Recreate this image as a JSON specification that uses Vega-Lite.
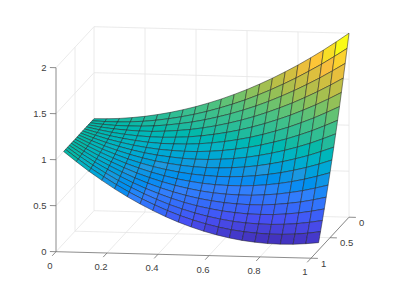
{"$schema":"https://vega.github.io/schema/vega-lite/v6.json","width":401,"height":288,"padding":0,"autosize":{"type":"none"},"background":"white","view":{"stroke":null},
"datasets":{
"surface":[
{"x":0,"y":0,"z":1},{"x":0,"y":0.05,"z":1},{"x":0,"y":0.1,"z":1},{"x":0,"y":0.15,"z":1},{"x":0,"y":0.2,"z":1},{"x":0,"y":0.25,"z":1},{"x":0,"y":0.3,"z":1},{"x":0,"y":0.35,"z":1},{"x":0,"y":0.4,"z":1},{"x":0,"y":0.45,"z":1},{"x":0,"y":0.5,"z":1},{"x":0,"y":0.55,"z":1},{"x":0,"y":0.6,"z":1},{"x":0,"y":0.65,"z":1},{"x":0,"y":0.7,"z":1},{"x":0,"y":0.75,"z":1},{"x":0,"y":0.8,"z":1},
{"x":0.05,"y":0,"z":1.003},{"x":0.05,"y":0.05,"z":0.995},{"x":0.05,"y":0.1,"z":0.987},{"x":0.05,"y":0.15,"z":0.979},{"x":0.05,"y":0.2,"z":0.972},{"x":0.05,"y":0.25,"z":0.964},{"x":0.05,"y":0.3,"z":0.957},{"x":0.05,"y":0.35,"z":0.95},{"x":0.05,"y":0.4,"z":0.943},{"x":0.05,"y":0.45,"z":0.936},{"x":0.05,"y":0.5,"z":0.929},{"x":0.05,"y":0.55,"z":0.923},{"x":0.05,"y":0.6,"z":0.917},{"x":0.05,"y":0.65,"z":0.91},{"x":0.05,"y":0.7,"z":0.904},{"x":0.05,"y":0.75,"z":0.898},{"x":0.05,"y":0.8,"z":0.893},
{"x":0.1,"y":0,"z":1.01},{"x":0.1,"y":0.05,"z":0.994},{"x":0.1,"y":0.1,"z":0.978},{"x":0.1,"y":0.15,"z":0.963},{"x":0.1,"y":0.2,"z":0.948},{"x":0.1,"y":0.25,"z":0.933},{"x":0.1,"y":0.3,"z":0.918},{"x":0.1,"y":0.35,"z":0.904},{"x":0.1,"y":0.4,"z":0.89},{"x":0.1,"y":0.45,"z":0.877},{"x":0.1,"y":0.5,"z":0.864},{"x":0.1,"y":0.55,"z":0.851},{"x":0.1,"y":0.6,"z":0.838},{"x":0.1,"y":0.65,"z":0.826},{"x":0.1,"y":0.7,"z":0.814},{"x":0.1,"y":0.75,"z":0.802},{"x":0.1,"y":0.8,"z":0.791},
{"x":0.15,"y":0,"z":1.023},{"x":0.15,"y":0.05,"z":0.999},{"x":0.15,"y":0.1,"z":0.976},{"x":0.15,"y":0.15,"z":0.953},{"x":0.15,"y":0.2,"z":0.93},{"x":0.15,"y":0.25,"z":0.908},{"x":0.15,"y":0.3,"z":0.887},{"x":0.15,"y":0.35,"z":0.865},{"x":0.15,"y":0.4,"z":0.845},{"x":0.15,"y":0.45,"z":0.825},{"x":0.15,"y":0.5,"z":0.805},{"x":0.15,"y":0.55,"z":0.786},{"x":0.15,"y":0.6,"z":0.767},{"x":0.15,"y":0.65,"z":0.749},{"x":0.15,"y":0.7,"z":0.731},{"x":0.15,"y":0.75,"z":0.714},{"x":0.15,"y":0.8,"z":0.697},
{"x":0.2,"y":0,"z":1.04},{"x":0.2,"y":0.05,"z":1.008},{"x":0.2,"y":0.1,"z":0.977},{"x":0.2,"y":0.15,"z":0.947},{"x":0.2,"y":0.2,"z":0.917},{"x":0.2,"y":0.25,"z":0.888},{"x":0.2,"y":0.3,"z":0.859},{"x":0.2,"y":0.35,"z":0.831},{"x":0.2,"y":0.4,"z":0.804},{"x":0.2,"y":0.45,"z":0.777},{"x":0.2,"y":0.5,"z":0.751},{"x":0.2,"y":0.55,"z":0.726},{"x":0.2,"y":0.6,"z":0.701},{"x":0.2,"y":0.65,"z":0.677},{"x":0.2,"y":0.7,"z":0.653},{"x":0.2,"y":0.75,"z":0.63},{"x":0.2,"y":0.8,"z":0.608},
{"x":0.25,"y":0,"z":1.063},{"x":0.25,"y":0.05,"z":1.023},{"x":0.25,"y":0.1,"z":0.984},{"x":0.25,"y":0.15,"z":0.946},{"x":0.25,"y":0.2,"z":0.91},{"x":0.25,"y":0.25,"z":0.873},{"x":0.25,"y":0.3,"z":0.838},{"x":0.25,"y":0.35,"z":0.803},{"x":0.25,"y":0.4,"z":0.769},{"x":0.25,"y":0.45,"z":0.736},{"x":0.25,"y":0.5,"z":0.704},{"x":0.25,"y":0.55,"z":0.672},{"x":0.25,"y":0.6,"z":0.641},{"x":0.25,"y":0.65,"z":0.611},{"x":0.25,"y":0.7,"z":0.582},{"x":0.25,"y":0.75,"z":0.553},{"x":0.25,"y":0.8,"z":0.526},
{"x":0.3,"y":0,"z":1.09},{"x":0.3,"y":0.05,"z":1.043},{"x":0.3,"y":0.1,"z":0.997},{"x":0.3,"y":0.15,"z":0.952},{"x":0.3,"y":0.2,"z":0.908},{"x":0.3,"y":0.25,"z":0.864},{"x":0.3,"y":0.3,"z":0.822},{"x":0.3,"y":0.35,"z":0.781},{"x":0.3,"y":0.4,"z":0.74},{"x":0.3,"y":0.45,"z":0.701},{"x":0.3,"y":0.5,"z":0.662},{"x":0.3,"y":0.55,"z":0.625},{"x":0.3,"y":0.6,"z":0.588},{"x":0.3,"y":0.65,"z":0.552},{"x":0.3,"y":0.7,"z":0.518},{"x":0.3,"y":0.75,"z":0.484},{"x":0.3,"y":0.8,"z":0.451},
{"x":0.35,"y":0,"z":1.123},{"x":0.35,"y":0.05,"z":1.068},{"x":0.35,"y":0.1,"z":1.015},{"x":0.35,"y":0.15,"z":0.963},{"x":0.35,"y":0.2,"z":0.912},{"x":0.35,"y":0.25,"z":0.862},{"x":0.35,"y":0.3,"z":0.813},{"x":0.35,"y":0.35,"z":0.765},{"x":0.35,"y":0.4,"z":0.718},{"x":0.35,"y":0.45,"z":0.672},{"x":0.35,"y":0.5,"z":0.627},{"x":0.35,"y":0.55,"z":0.584},{"x":0.35,"y":0.6,"z":0.541},{"x":0.35,"y":0.65,"z":0.5},{"x":0.35,"y":0.7,"z":0.46},{"x":0.35,"y":0.75,"z":0.421},{"x":0.35,"y":0.8,"z":0.383},
{"x":0.4,"y":0,"z":1.16},{"x":0.4,"y":0.05,"z":1.098},{"x":0.4,"y":0.1,"z":1.037},{"x":0.4,"y":0.15,"z":0.978},{"x":0.4,"y":0.2,"z":0.92},{"x":0.4,"y":0.25,"z":0.863},{"x":0.4,"y":0.3,"z":0.807},{"x":0.4,"y":0.35,"z":0.753},{"x":0.4,"y":0.4,"z":0.7},{"x":0.4,"y":0.45,"z":0.648},{"x":0.4,"y":0.5,"z":0.597},{"x":0.4,"y":0.55,"z":0.548},{"x":0.4,"y":0.6,"z":0.5},{"x":0.4,"y":0.65,"z":0.453},{"x":0.4,"y":0.7,"z":0.407},{"x":0.4,"y":0.75,"z":0.363},{"x":0.4,"y":0.8,"z":0.32},
{"x":0.45,"y":0,"z":1.203},{"x":0.45,"y":0.05,"z":1.133},{"x":0.45,"y":0.1,"z":1.065},{"x":0.45,"y":0.15,"z":0.999},{"x":0.45,"y":0.2,"z":0.934},{"x":0.45,"y":0.25,"z":0.871},{"x":0.45,"y":0.3,"z":0.808},{"x":0.45,"y":0.35,"z":0.747},{"x":0.45,"y":0.4,"z":0.688},{"x":0.45,"y":0.45,"z":0.63},{"x":0.45,"y":0.5,"z":0.574},{"x":0.45,"y":0.55,"z":0.519},{"x":0.45,"y":0.6,"z":0.465},{"x":0.45,"y":0.65,"z":0.412},{"x":0.45,"y":0.7,"z":0.362},{"x":0.45,"y":0.75,"z":0.312},{"x":0.45,"y":0.8,"z":0.264},
{"x":0.5,"y":0,"z":1.25},{"x":0.5,"y":0.05,"z":1.174},{"x":0.5,"y":0.1,"z":1.099},{"x":0.5,"y":0.15,"z":1.025},{"x":0.5,"y":0.2,"z":0.954},{"x":0.5,"y":0.25,"z":0.884},{"x":0.5,"y":0.3,"z":0.815},{"x":0.5,"y":0.35,"z":0.748},{"x":0.5,"y":0.4,"z":0.682},{"x":0.5,"y":0.45,"z":0.619},{"x":0.5,"y":0.5,"z":0.556},{"x":0.5,"y":0.55,"z":0.495},{"x":0.5,"y":0.6,"z":0.436},{"x":0.5,"y":0.65,"z":0.378},{"x":0.5,"y":0.7,"z":0.322},{"x":0.5,"y":0.75,"z":0.268},{"x":0.5,"y":0.8,"z":0.215},
{"x":0.55,"y":0,"z":1.303},{"x":0.55,"y":0.05,"z":1.219},{"x":0.55,"y":0.1,"z":1.137},{"x":0.55,"y":0.15,"z":1.057},{"x":0.55,"y":0.2,"z":0.979},{"x":0.55,"y":0.25,"z":0.902},{"x":0.55,"y":0.3,"z":0.827},{"x":0.55,"y":0.35,"z":0.754},{"x":0.55,"y":0.4,"z":0.682},{"x":0.55,"y":0.45,"z":0.612},{"x":0.55,"y":0.5,"z":0.544},{"x":0.55,"y":0.55,"z":0.478},{"x":0.55,"y":0.6,"z":0.414},{"x":0.55,"y":0.65,"z":0.351},{"x":0.55,"y":0.7,"z":0.289},{"x":0.55,"y":0.75,"z":0.23},{"x":0.55,"y":0.8,"z":0.172},
{"x":0.6,"y":0,"z":1.36},{"x":0.6,"y":0.05,"z":1.269},{"x":0.6,"y":0.1,"z":1.181},{"x":0.6,"y":0.15,"z":1.094},{"x":0.6,"y":0.2,"z":1.009},{"x":0.6,"y":0.25,"z":0.926},{"x":0.6,"y":0.3,"z":0.845},{"x":0.6,"y":0.35,"z":0.765},{"x":0.6,"y":0.4,"z":0.688},{"x":0.6,"y":0.45,"z":0.612},{"x":0.6,"y":0.5,"z":0.539},{"x":0.6,"y":0.55,"z":0.467},{"x":0.6,"y":0.6,"z":0.397},{"x":0.6,"y":0.65,"z":0.329},{"x":0.6,"y":0.7,"z":0.263},{"x":0.6,"y":0.75,"z":0.198},{"x":0.6,"y":0.8,"z":0.136},
{"x":0.65,"y":0,"z":1.423},{"x":0.65,"y":0.05,"z":1.325},{"x":0.65,"y":0.1,"z":1.229},{"x":0.65,"y":0.15,"z":1.136},{"x":0.65,"y":0.2,"z":1.045},{"x":0.65,"y":0.25,"z":0.955},{"x":0.65,"y":0.3,"z":0.868},{"x":0.65,"y":0.35,"z":0.782},{"x":0.65,"y":0.4,"z":0.699},{"x":0.65,"y":0.45,"z":0.618},{"x":0.65,"y":0.5,"z":0.539},{"x":0.65,"y":0.55,"z":0.462},{"x":0.65,"y":0.6,"z":0.387},{"x":0.65,"y":0.65,"z":0.314},{"x":0.65,"y":0.7,"z":0.242},{"x":0.65,"y":0.75,"z":0.173},{"x":0.65,"y":0.8,"z":0.106},
{"x":0.7,"y":0,"z":1.49},{"x":0.7,"y":0.05,"z":1.386},{"x":0.7,"y":0.1,"z":1.283},{"x":0.7,"y":0.15,"z":1.184},{"x":0.7,"y":0.2,"z":1.086},{"x":0.7,"y":0.25,"z":0.99},{"x":0.7,"y":0.3,"z":0.897},{"x":0.7,"y":0.35,"z":0.806},{"x":0.7,"y":0.4,"z":0.716},{"x":0.7,"y":0.45,"z":0.63},{"x":0.7,"y":0.5,"z":0.545},{"x":0.7,"y":0.55,"z":0.462},{"x":0.7,"y":0.6,"z":0.382},{"x":0.7,"y":0.65,"z":0.304},{"x":0.7,"y":0.7,"z":0.228},{"x":0.7,"y":0.75,"z":0.155},{"x":0.7,"y":0.8,"z":0.083},
{"x":0.75,"y":0,"z":1.563},{"x":0.75,"y":0.05,"z":1.452},{"x":0.75,"y":0.1,"z":1.343},{"x":0.75,"y":0.15,"z":1.237},{"x":0.75,"y":0.2,"z":1.133},{"x":0.75,"y":0.25,"z":1.031},{"x":0.75,"y":0.3,"z":0.932},{"x":0.75,"y":0.35,"z":0.835},{"x":0.75,"y":0.4,"z":0.74},{"x":0.75,"y":0.45,"z":0.648},{"x":0.75,"y":0.5,"z":0.557},{"x":0.75,"y":0.55,"z":0.47},{"x":0.75,"y":0.6,"z":0.384},{"x":0.75,"y":0.65,"z":0.302},{"x":0.75,"y":0.7,"z":0.221},{"x":0.75,"y":0.75,"z":0.143},{"x":0.75,"y":0.8,"z":0.067},
{"x":0.8,"y":0,"z":1.64},{"x":0.8,"y":0.05,"z":1.522},{"x":0.8,"y":0.1,"z":1.407},{"x":0.8,"y":0.15,"z":1.294},{"x":0.8,"y":0.2,"z":1.184},{"x":0.8,"y":0.25,"z":1.076},{"x":0.8,"y":0.3,"z":0.971},{"x":0.8,"y":0.35,"z":0.868},{"x":0.8,"y":0.4,"z":0.768},{"x":0.8,"y":0.45,"z":0.67},{"x":0.8,"y":0.5,"z":0.575},{"x":0.8,"y":0.55,"z":0.482},{"x":0.8,"y":0.6,"z":0.392},{"x":0.8,"y":0.65,"z":0.304},{"x":0.8,"y":0.7,"z":0.219},{"x":0.8,"y":0.75,"z":0.136},{"x":0.8,"y":0.8,"z":0.056},
{"x":0.85,"y":0,"z":1.723},{"x":0.85,"y":0.05,"z":1.599},{"x":0.85,"y":0.1,"z":1.477},{"x":0.85,"y":0.15,"z":1.358},{"x":0.85,"y":0.2,"z":1.242},{"x":0.85,"y":0.25,"z":1.128},{"x":0.85,"y":0.3,"z":1.017},{"x":0.85,"y":0.35,"z":0.908},{"x":0.85,"y":0.4,"z":0.803},{"x":0.85,"y":0.45,"z":0.7},{"x":0.85,"y":0.5,"z":0.599},{"x":0.85,"y":0.55,"z":0.502},{"x":0.85,"y":0.6,"z":0.407},{"x":0.85,"y":0.65,"z":0.314},{"x":0.85,"y":0.7,"z":0.224},{"x":0.85,"y":0.75,"z":0.137},{"x":0.85,"y":0.8,"z":0.053},
{"x":0.9,"y":0,"z":1.81},{"x":0.9,"y":0.05,"z":1.679},{"x":0.9,"y":0.1,"z":1.551},{"x":0.9,"y":0.15,"z":1.426},{"x":0.9,"y":0.2,"z":1.304},{"x":0.9,"y":0.25,"z":1.184},{"x":0.9,"y":0.3,"z":1.067},{"x":0.9,"y":0.35,"z":0.953},{"x":0.9,"y":0.4,"z":0.842},{"x":0.9,"y":0.45,"z":0.734},{"x":0.9,"y":0.5,"z":0.629},{"x":0.9,"y":0.55,"z":0.526},{"x":0.9,"y":0.6,"z":0.426},{"x":0.9,"y":0.65,"z":0.329},{"x":0.9,"y":0.7,"z":0.235},{"x":0.9,"y":0.75,"z":0.143},{"x":0.9,"y":0.8,"z":0.055},
{"x":0.95,"y":0,"z":1.903},{"x":0.95,"y":0.05,"z":1.766},{"x":0.95,"y":0.1,"z":1.632},{"x":0.95,"y":0.15,"z":1.5},{"x":0.95,"y":0.2,"z":1.372},{"x":0.95,"y":0.25,"z":1.247},{"x":0.95,"y":0.3,"z":1.125},{"x":0.95,"y":0.35,"z":1.005},{"x":0.95,"y":0.4,"z":0.889},{"x":0.95,"y":0.45,"z":0.775},{"x":0.95,"y":0.5,"z":0.665},{"x":0.95,"y":0.55,"z":0.558},{"x":0.95,"y":0.6,"z":0.453},{"x":0.95,"y":0.65,"z":0.352},{"x":0.95,"y":0.7,"z":0.253},{"x":0.95,"y":0.75,"z":0.157},{"x":0.95,"y":0.8,"z":0.065},
{"x":1,"y":0,"z":2},{"x":1,"y":0.05,"z":1.857},{"x":1,"y":0.1,"z":1.716},{"x":1,"y":0.15,"z":1.579},{"x":1,"y":0.2,"z":1.445},{"x":1,"y":0.25,"z":1.314},{"x":1,"y":0.3,"z":1.186},{"x":1,"y":0.35,"z":1.062},{"x":1,"y":0.4,"z":0.94},{"x":1,"y":0.45,"z":0.822},{"x":1,"y":0.5,"z":0.706},{"x":1,"y":0.55,"z":0.594},{"x":1,"y":0.6,"z":0.485},{"x":1,"y":0.65,"z":0.379},{"x":1,"y":0.7,"z":0.276},{"x":1,"y":0.75,"z":0.177},{"x":1,"y":0.8,"z":0.08}
],
"grid":[
{"x":0,"y":0,"z":0,"x2":0,"y2":1,"z2":0},{"x":0.2,"y":0,"z":0,"x2":0.2,"y2":1,"z2":0},{"x":0.4,"y":0,"z":0,"x2":0.4,"y2":1,"z2":0},{"x":0.6,"y":0,"z":0,"x2":0.6,"y2":1,"z2":0},{"x":0.8,"y":0,"z":0,"x2":0.8,"y2":1,"z2":0},{"x":1,"y":0,"z":0,"x2":1,"y2":1,"z2":0},
{"x":0,"y":0,"z":0,"x2":1,"y2":0,"z2":0},{"x":0,"y":0.5,"z":0,"x2":1,"y2":0.5,"z2":0},
{"x":0,"y":0,"z":0,"x2":0,"y2":0,"z2":2},{"x":0.2,"y":0,"z":0,"x2":0.2,"y2":0,"z2":2},{"x":0.4,"y":0,"z":0,"x2":0.4,"y2":0,"z2":2},{"x":0.6,"y":0,"z":0,"x2":0.6,"y2":0,"z2":2},{"x":0.8,"y":0,"z":0,"x2":0.8,"y2":0,"z2":2},{"x":1,"y":0,"z":0,"x2":1,"y2":0,"z2":2},
{"x":0,"y":0,"z":0.5,"x2":1,"y2":0,"z2":0.5},{"x":0,"y":0,"z":1,"x2":1,"y2":0,"z2":1},{"x":0,"y":0,"z":1.5,"x2":1,"y2":0,"z2":1.5},{"x":0,"y":0,"z":2,"x2":1,"y2":0,"z2":2},
{"x":0,"y":0.5,"z":0,"x2":0,"y2":0.5,"z2":2},
{"x":0,"y":0,"z":0.5,"x2":0,"y2":1,"z2":0.5},{"x":0,"y":0,"z":1,"x2":0,"y2":1,"z2":1},{"x":0,"y":0,"z":1.5,"x2":0,"y2":1,"z2":1.5},{"x":0,"y":0,"z":2,"x2":0,"y2":1,"z2":2}
],
"rulers":[
{"x":0,"y":1,"z":0,"x2":1,"y2":1,"z2":0},{"x":1,"y":0,"z":0,"x2":1,"y2":1,"z2":0},{"x":0,"y":1,"z":0,"x2":0,"y2":1,"z2":2},
{"x":0,"y":1,"z":0,"x2":0,"y2":1.1,"z2":0},{"x":0.2,"y":1,"z":0,"x2":0.2,"y2":1.1,"z2":0},{"x":0.4,"y":1,"z":0,"x2":0.4,"y2":1.1,"z2":0},{"x":0.6,"y":1,"z":0,"x2":0.6,"y2":1.1,"z2":0},{"x":0.8,"y":1,"z":0,"x2":0.8,"y2":1.1,"z2":0},{"x":1,"y":1,"z":0,"x2":1,"y2":1.1,"z2":0},
{"x":1,"y":0,"z":0,"x2":1.027,"y2":0,"z2":0},{"x":1,"y":0.5,"z":0,"x2":1.027,"y2":0.5,"z2":0},{"x":1,"y":1,"z":0,"x2":1.027,"y2":1,"z2":0},
{"x":0,"y":1,"z":0,"x2":-0.024,"y2":1,"z2":0},{"x":0,"y":1,"z":0.5,"x2":-0.024,"y2":1,"z2":0.5},{"x":0,"y":1,"z":1,"x2":-0.024,"y2":1,"z2":1},{"x":0,"y":1,"z":1.5,"x2":-0.024,"y2":1,"z2":1.5},{"x":0,"y":1,"z":2,"x2":-0.024,"y2":1,"z2":2}
],
"xlabels":[{"t":"0","x":0,"y":1,"z":0},{"t":"0.2","x":0.2,"y":1,"z":0},{"t":"0.4","x":0.4,"y":1,"z":0},{"t":"0.6","x":0.6,"y":1,"z":0},{"t":"0.8","x":0.8,"y":1,"z":0},{"t":"1","x":1,"y":1,"z":0}],
"ylabels":[{"t":"0","x":1,"y":0,"z":0},{"t":"0.5","x":1,"y":0.5,"z":0},{"t":"1","x":1,"y":1,"z":0}],
"zlabels":[{"t":"0","x":0,"y":1,"z":0},{"t":"0.5","x":0,"y":1,"z":0.5},{"t":"1","x":0,"y":1,"z":1},{"t":"1.5","x":0,"y":1,"z":1.5},{"t":"2","x":0,"y":1,"z":2}]
},
"layer":[
{"data":{"name":"grid"},
 "transform":[{"calculate":"94+255*datum.x-38*datum.y","as":"sx"},{"calculate":"210.7+6.5*datum.x+41*datum.y-92*datum.z","as":"sy"},{"calculate":"94+255*datum.x2-38*datum.y2","as":"sx2"},{"calculate":"210.7+6.5*datum.x2+41*datum.y2-92*datum.z2","as":"sy2"}],
 "mark":{"type":"rule","stroke":"#e4e4e4","strokeWidth":0.8},
 "encoding":{"x":{"field":"sx","type":"quantitative","scale":{"domain":[0,401]},"axis":null},"y":{"field":"sy","type":"quantitative","scale":{"domain":[288,0]},"axis":null},"x2":{"field":"sx2"},"y2":{"field":"sy2"}}},
{"data":{"name":"rulers"},
 "transform":[{"calculate":"94+255*datum.x-38*datum.y","as":"sx"},{"calculate":"210.7+6.5*datum.x+41*datum.y-92*datum.z","as":"sy"},{"calculate":"94+255*datum.x2-38*datum.y2","as":"sx2"},{"calculate":"210.7+6.5*datum.x2+41*datum.y2-92*datum.z2","as":"sy2"}],
 "mark":{"type":"rule","stroke":"#707070","strokeWidth":0.8},
 "encoding":{"x":{"field":"sx","type":"quantitative","scale":{"domain":[0,401]},"axis":null},"y":{"field":"sy","type":"quantitative","scale":{"domain":[288,0]},"axis":null},"x2":{"field":"sx2"},"y2":{"field":"sy2"}}},
{"data":{"name":"surface"},
 "transform":[
  {"calculate":"[0,1,2,3,4]","as":"c"},{"flatten":["c"]},
  {"calculate":"round(datum.x*20)-((datum.c==1||datum.c==2)?1:0)","as":"qi"},
  {"calculate":"round(datum.y*20)-((datum.c==2||datum.c==3)?1:0)","as":"qj"},
  {"filter":"datum.qi>=0&&datum.qi<20&&datum.qj>=0&&datum.qj<16"},
  {"calculate":"datum.qj*100+datum.qi","as":"q"},
  {"joinaggregate":[{"op":"max","field":"z","as":"zc"}],"groupby":["q"]},
  {"calculate":"94+255*datum.x-38*datum.y","as":"sx"},{"calculate":"210.7+6.5*datum.x+41*datum.y-92*datum.z","as":"sy"}
 ],
 "mark":{"type":"line","filled":true,"stroke":"#222222","strokeWidth":0.6,"strokeOpacity":0.85},
 "encoding":{
  "x":{"field":"sx","type":"quantitative","scale":{"domain":[0,401]},"axis":null},
  "y":{"field":"sy","type":"quantitative","scale":{"domain":[288,0]},"axis":null},
  "order":{"field":"c","type":"ordinal"},
  "detail":{"field":"q","type":"nominal"},
  "color":{"field":"zc","type":"quantitative","legend":null,"scale":{"domain":[0.06,0.31,0.55,0.74,0.9,1.03,1.27,1.54,1.78,1.9,2],"range":["#3e26a8","#4750f4","#3280fc","#1e99e0","#08b4c4","#1cbaa0","#52c27e","#b4bd4a","#fdbe3d","#f8dd26","#f9fb15"]}}
 }},
{"data":{"name":"xlabels"},
 "transform":[{"calculate":"94+255*datum.x-38*datum.y","as":"sx"},{"calculate":"210.7+6.5*datum.x+41*datum.y-92*datum.z","as":"sy"}],
 "mark":{"type":"text","font":"Liberation Sans","fontSize":9.5,"fill":"#404040","dx":-6,"dy":14,"align":"center","baseline":"middle"},
 "encoding":{"x":{"field":"sx","type":"quantitative","scale":{"domain":[0,401]},"axis":null},"y":{"field":"sy","type":"quantitative","scale":{"domain":[288,0]},"axis":null},"text":{"field":"t"}}},
{"data":{"name":"ylabels"},
 "transform":[{"calculate":"94+255*datum.x-38*datum.y","as":"sx"},{"calculate":"210.7+6.5*datum.x+41*datum.y-92*datum.z","as":"sy"}],
 "mark":{"type":"text","font":"Liberation Sans","fontSize":9.5,"fill":"#404040","dx":10,"dy":5.7,"align":"left","baseline":"middle"},
 "encoding":{"x":{"field":"sx","type":"quantitative","scale":{"domain":[0,401]},"axis":null},"y":{"field":"sy","type":"quantitative","scale":{"domain":[288,0]},"axis":null},"text":{"field":"t"}}},
{"data":{"name":"zlabels"},
 "transform":[{"calculate":"94+255*datum.x-38*datum.y","as":"sx"},{"calculate":"210.7+6.5*datum.x+41*datum.y-92*datum.z","as":"sy"}],
 "mark":{"type":"text","font":"Liberation Sans","fontSize":9.5,"fill":"#404040","dx":-9.5,"dy":0,"align":"right","baseline":"middle"},
 "encoding":{"x":{"field":"sx","type":"quantitative","scale":{"domain":[0,401]},"axis":null},"y":{"field":"sy","type":"quantitative","scale":{"domain":[288,0]},"axis":null},"text":{"field":"t"}}}
]}
